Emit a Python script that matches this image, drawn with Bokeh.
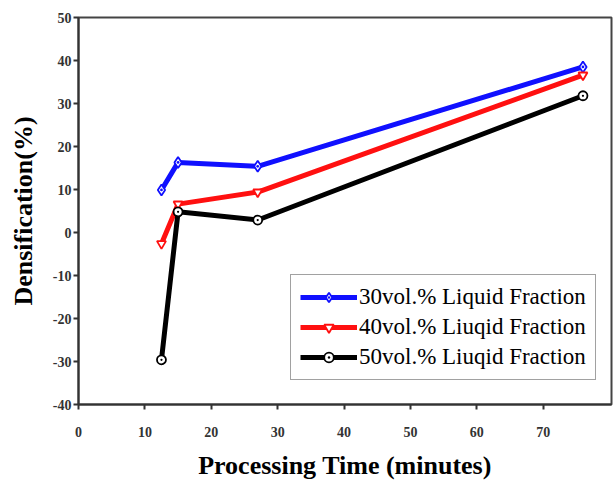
from bokeh.plotting import figure
from bokeh.models import Range1d, FixedTicker, Legend, LegendItem
from bokeh.embed import file_html
from bokeh.resources import INLINE

# Data
time_min = [12.5, 15.0, 27.0, 76.0]
dens_30 = [9.9, 16.3, 15.4, 38.5]
dens_40 = [-2.6, 6.6, 9.4, 36.6]
dens_50 = [-29.6, 4.8, 2.9, 31.8]
labels = ["30vol.% Liquid Fraction", "40vol.% Liuqid Fraction", "50vol.% Liuqid Fraction"]
x_ticks = [0, 10, 20, 30, 40, 50, 60, 70]
y_ticks = [-40, -30, -20, -10, 0, 10, 20, 30, 40, 50]

SERIF = "Liberation Serif"

p = figure(width=613, height=482, output_backend="svg", toolbar_location=None,
           x_range=Range1d(0, 80.3), y_range=Range1d(-40, 50),
           min_border_left=78, min_border_right=2, min_border_top=17, min_border_bottom=75)
p.grid.visible = False
p.background_fill_color = "white"
p.border_fill_color = "white"
p.outline_line_color = "#444444"
p.outline_line_width = 2

for ax in (p.xaxis[0], p.yaxis[0]):
    ax.axis_line_color = "#333333"
    ax.axis_line_width = 2
    ax.major_tick_line_color = "#333333"
    ax.major_tick_line_width = 2
    ax.major_tick_out = 5
    ax.major_tick_in = 0
    ax.minor_tick_out = 0
    ax.minor_tick_in = 0
    ax.major_label_text_font = SERIF
    ax.major_label_text_font_size = "14px"
    ax.major_label_text_font_style = "bold"
    ax.major_label_text_color = "#333333"
    ax.axis_label_text_font = SERIF
    ax.axis_label_text_font_style = "bold"
    ax.axis_label_text_font_size = "26px"
    ax.axis_label_text_color = "black"

p.xaxis.ticker = FixedTicker(ticks=x_ticks)
p.yaxis.ticker = FixedTicker(ticks=y_ticks)
p.yaxis.major_label_overrides = {t: str(t) for t in y_ticks}
p.xaxis.major_label_standoff = 17
p.xaxis.axis_label = "Processing Time (minutes)"
p.xaxis.axis_label_standoff = 11
p.yaxis.axis_label = "Densification(%)"
p.yaxis.major_label_standoff = 2
p.yaxis.axis_label_standoff = 12
p.yaxis.major_label_text_baseline = "alphabetic"

series = [
    (dens_30, "#1010ff", "diamond_dot", 11),
    (dens_40, "#ff1010", "inverted_triangle", 9),
    (dens_50, "black", "circle_dot", 9),
]
items = []
for (ys, color, marker, size), lab in zip(series, labels):
    r1 = p.line(time_min, ys, line_color=color, line_width=5)
    r2 = p.scatter(time_min, ys, marker=marker, size=size, line_color=color,
                   fill_color="white", line_width=1.8)
    items.append(LegendItem(label=lab, renderers=[r1, r2]))

legend = Legend(items=items, location=(212, 24), label_text_font=SERIF,
                label_text_font_size="23px", label_text_color="black",
                glyph_width=57, glyph_height=24, label_height=24, spacing=4,
                padding=9, margin=0, label_standoff=2,
                border_line_color="#444444", border_line_width=1.5,
                background_fill_color="white", background_fill_alpha=1)
p.add_layout(legend, "center")

open("out.html", "w").write(file_html(p, INLINE))
